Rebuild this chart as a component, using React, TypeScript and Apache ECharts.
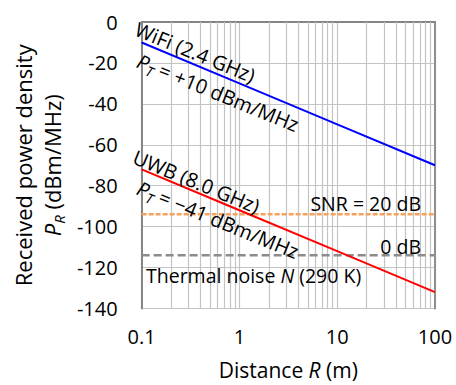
import React, { useEffect, useRef } from "react";
import * as echarts from "echarts";

const distances = [0.1, 1, 10, 100];
const wifiPower = [-10, -30, -50, -70];
const uwbPower = [-72, -92, -112, -132];
const snrLevel = -94;
const noiseLevel = -114;
const lineEnds = [0.1, 100];
const minorGrid = [0.2, 0.3, 0.4, 0.5, 0.6, 0.7, 0.8, 0.9, 2, 3, 4, 5, 6, 7, 8, 9, 20, 30, 40, 50, 60, 70, 80, 90];
const yTicks = { min: -140, max: 0, interval: 20 };

const FONT = "'Open Sans', 'Noto Sans', sans-serif";
const FS = 19.5;
const FS_ROT = 20;
const ANG = (-22.3 * Math.PI) / 180;

const makeRich = (size: number, subSize: number, lh: number) => ({
  i: { fontFamily: FONT, fontSize: size, fontStyle: "italic", color: "#000", lineHeight: lh },
  s: { fontFamily: FONT, fontSize: subSize, fontStyle: "italic", color: "#000", verticalAlign: "bottom" },
  n: { fontFamily: FONT, fontSize: size, color: "#000", lineHeight: lh },
});

const richRot = makeRich(FS_ROT, 14, 26);
const richFlat = makeRich(FS, 14, 26);
const richY = makeRich(22, 15, 29);
const richX = makeRich(21, 15, 26);

export default function App() {
  const ref = useRef<HTMLDivElement>(null);
  useEffect(() => {
    if (!ref.current) return;
    const chart = echarts.init(ref.current, undefined, { renderer: "svg" });
    const textStyle = (text: string, rich: any, extra: any = {}) => ({
      text,
      rich,
      fontFamily: FONT,
      fill: "#000",
      ...extra,
    });
    chart.setOption({
      animation: false,
      grid: { left: 135, right: 21, top: 22, bottom: 73 },
      xAxis: {
        type: "log",
        logBase: 10,
        min: 0.1,
        max: 100,
        axisLine: { show: true, lineStyle: { color: "#858585", width: 2 } },
        axisTick: { show: false },
        axisLabel: {
          margin: 18,
          fontFamily: FONT,
          fontSize: 20,
          color: "#000",
          formatter: (v: number) => String(v),
        },
        splitLine: { show: true, lineStyle: { color: "#C4C4C4", width: 1.2 } },
        name: "{n|Distance }{i|R}{n| (m)}",
        nameLocation: "middle",
        nameGap: 48,
        nameTextStyle: { fontFamily: FONT, fontSize: 21, color: "#000", rich: richX },
      },
      yAxis: [
        {
          type: "value",
          min: yTicks.min,
          max: yTicks.max,
          interval: yTicks.interval,
          axisLine: { show: true, onZero: false, lineStyle: { color: "#858585", width: 2 } },
          axisTick: { show: false },
          axisLabel: { margin: 24, fontFamily: FONT, fontSize: 20, color: "#000" },
          splitLine: { show: true, lineStyle: { color: "#C4C4C4", width: 1.2 } },
          name: "{n|Received power density}\n{i|P}{s|R}{n| (dBm/MHz)}",
          nameLocation: "middle",
          nameGap: 70,
          nameTextStyle: { fontFamily: FONT, fontSize: 22, color: "#000", rich: richY, lineHeight: 29 },
        },
        {
          type: "value",
          position: "right",
          min: yTicks.min,
          max: yTicks.max,
          interval: yTicks.interval,
          axisLine: { show: true, onZero: false, lineStyle: { color: "#8F8F8F", width: 2 } },
          axisTick: { show: false },
          axisLabel: { show: false },
          splitLine: { show: false },
        },
      ],
      series: [
        {
          type: "line",
          data: distances.map((d, i) => [d, wifiPower[i]]),
          symbol: "none",
          lineStyle: { color: "#0000FF", width: 2 },
          markLine: {
            silent: true,
            symbol: "none",
            label: { show: false },
            lineStyle: { color: "#C4C4C4", width: 1.2, type: "solid" },
            data: minorGrid.map((v) => ({ xAxis: v })),
            z: 1,
          },
          z: 5,
        },
        {
          type: "line",
          data: distances.map((d, i) => [d, uwbPower[i]]),
          symbol: "none",
          lineStyle: { color: "#FF0000", width: 2 },
          z: 5,
        },
        {
          type: "line",
          data: lineEnds.map((d) => [d, snrLevel]),
          symbol: "none",
          lineStyle: { color: "#F5A25E", width: 2.5, type: [5, 2] },
          z: 4,
        },
        {
          type: "line",
          data: lineEnds.map((d) => [d, noiseLevel]),
          symbol: "none",
          lineStyle: { color: "#8C8C8C", width: 2.5, type: [8, 4] },
          z: 4,
        },
      ],
      graphic: [
        {
          type: "text",
          x: 141,
          y: 16,
          rotation: ANG,
          style: textStyle("{n|WiFi (2.4 GHz)}", richRot, { textAlign: "left", textVerticalAlign: "top" }),
          z: 10,
        },
        {
          type: "text",
          x: 143,
          y: 48,
          rotation: ANG,
          style: textStyle("{i|P}{s|T}{n| = +10 dBm/MHz}", richRot, { textAlign: "left", textVerticalAlign: "top" }),
          z: 10,
        },
        {
          type: "text",
          x: 139,
          y: 144,
          rotation: ANG,
          style: textStyle("{n|UWB (8.0 GHz)}", richRot, { textAlign: "left", textVerticalAlign: "top" }),
          z: 10,
        },
        {
          type: "text",
          x: 143,
          y: 175,
          rotation: ANG,
          style: textStyle("{i|P}{s|T}{n| = −41 dBm/MHz}", richRot, { textAlign: "left", textVerticalAlign: "top" }),
          z: 10,
        },
        {
          type: "text",
          x: 421,
          y: 203,
          style: textStyle("{n|SNR = 20 dB}", richFlat, { textAlign: "right", textVerticalAlign: "middle" }),
          z: 10,
        },
        {
          type: "text",
          x: 421,
          y: 246,
          style: textStyle("{n|0 dB}", richFlat, { textAlign: "right", textVerticalAlign: "middle" }),
          z: 10,
        },
        {
          type: "text",
          x: 146,
          y: 275,
          style: textStyle("{n|Thermal noise }{i|N}{n| (290 K)}", richFlat, { textAlign: "left", textVerticalAlign: "middle" }),
          z: 10,
        },
      ],
    });
    return () => chart.dispose();
  }, []);
  return (
    <div
      ref={ref}
      style={{ position: "fixed", left: 0, top: 0, width: 456, height: 385, background: "#fff" }}
    />
  );
}
